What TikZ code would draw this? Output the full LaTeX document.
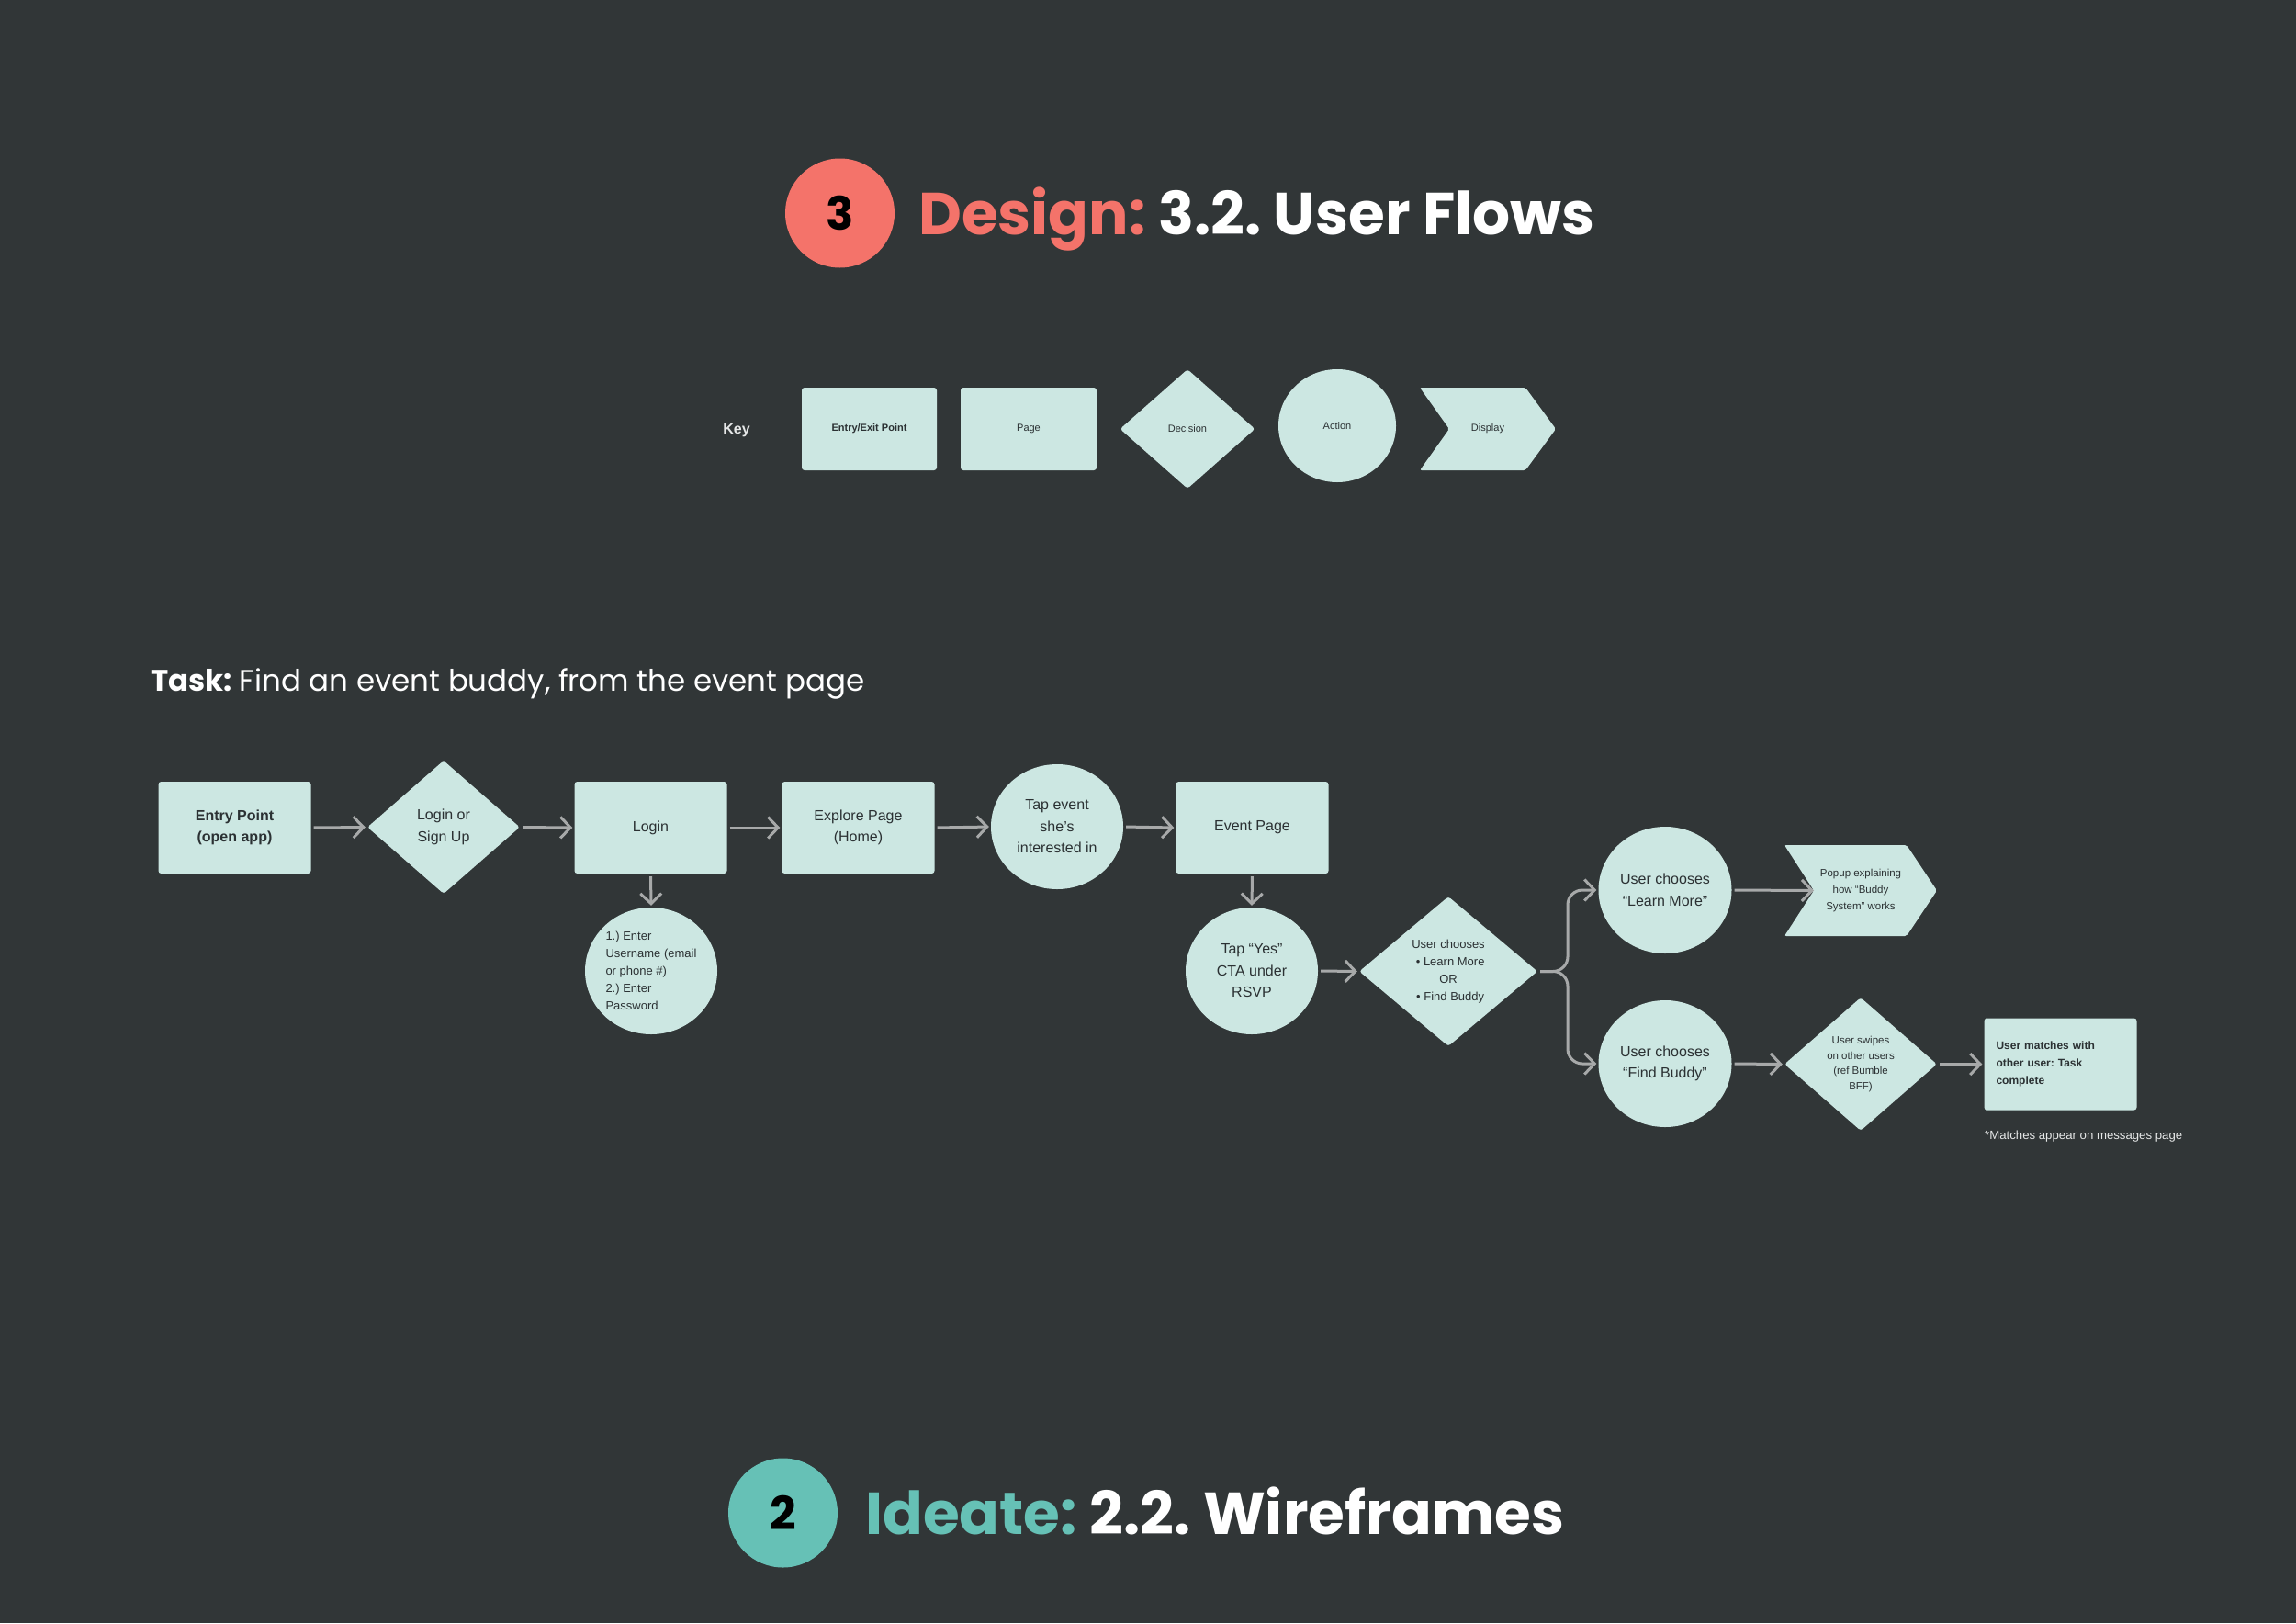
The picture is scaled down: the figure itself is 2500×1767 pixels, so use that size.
\documentclass[tikz,border=0pt]{standalone}
\usepackage{fontspec}
\setmainfont{Liberation Sans}
\newfontfamily\pop{Poppins}
\usetikzlibrary{shapes.geometric,arrows.meta}
\definecolor{bg}{HTML}{313637}
\definecolor{mint}{HTML}{CCE7E2}
\definecolor{ink}{HTML}{2B3133}
\definecolor{arrowgray}{HTML}{A7A9A9}
\definecolor{salmon}{HTML}{F4736A}
\definecolor{tealc}{HTML}{66C1B6}
\definecolor{keytext}{HTML}{E6E8E8}
\newcommand\myfs[2]{\fontsize{#1pt}{#2pt}\selectfont}
\frenchspacing
\begin{document}
\frenchspacing
\begin{tikzpicture}[x=1pt,y=-1pt,
  pagebox/.style={rectangle,fill=mint,rounded corners=3pt,minimum width=166pt,minimum height=100pt,inner sep=0pt,text=ink,align=center,font=\myfs{16}{23.5}},
  dia/.style={diamond,fill=mint,rounded corners=3pt,inner sep=0pt,text=ink,align=center},
  ell/.style={ellipse,fill=mint,inner sep=0pt,minimum width=144pt,minimum height=138pt,text=ink,align=center,font=\myfs{16}{23.5}},
  txt/.style={inner sep=0pt,text=ink,align=center},
  arr/.style={draw=arrowgray,line width=3pt,shorten <=3pt,shorten >=2pt,
    -{Straight Barb[length=11pt,width=23pt,line width=3pt]}},
  numcirc/.style={circle,minimum size=119pt,inner sep=0pt,text=black,font=\pop\bfseries\myfs{50}{50}},
  title/.style={anchor=base west,inner sep=0pt,text=white,font=\pop\bfseries\myfs{64.5}{64}}
]
\useasboundingbox (0,0) rectangle (2500,1767);
\fill[bg] (0,0) rectangle (2500,1767);

% ---------- top title
\node[numcirc,fill=salmon] (n3) at (914.5,232) {3};
\node[title] (t3) at (1000,255) {\textcolor{salmon}{Design:} 3.2. User Flows};

% ---------- key
\node[inner sep=0pt,text=keytext,font=\bfseries\myfs{16}{16}] (key) at (802,468.5) {Key};
\node[pagebox,minimum width=147pt,minimum height=90pt,font=\bfseries\myfs{11}{13}] (kentry) at (946.5,467) {Entry/Exit Point};
\node[pagebox,minimum width=148pt,minimum height=90pt,font=\myfs{11}{13}] (kpage) at (1120,467) {Page};
\node[dia,minimum width=147pt,minimum height=130pt,font=\myfs{11}{13}] (kdec) at (1293,467) {Decision};
\node[ell,minimum width=128pt,minimum height=123pt,font=\myfs{11}{13}] (kact) at (1456,463.5) {Action};
\fill[mint,rounded corners=2pt] (1546,422) -- (1661,422) -- (1694,467) -- (1661,512) -- (1546,512) -- (1578,467) -- cycle;
\node[txt,font=\myfs{11}{13}] (kdisp) at (1620,467) {Display};

% ---------- task
\node[anchor=base west,inner sep=0pt,text=white,font=\pop\myfs{32.5}{33}] (task) at (164,752) {\textbf{Task:}\hspace{8pt}Find an event buddy, from the event page};

% ---------- flow
\node[pagebox,font=\bfseries\myfs{16}{23.5}] (entry) at (255.5,901) {Entry Point\\(open app)};
\node[dia,minimum width=166pt,minimum height=145pt,font=\myfs{16}{23.5}] (lsu) at (483,900.5) {Login or\\Sign Up};
\node[pagebox] (login) at (708.5,901) {Login};
\node[pagebox] (explore) at (934.5,901) {Explore Page\\(Home)};
\node[ell,minimum height=136pt] (tapev) at (1151,900) {Tap event\\she’s\\interested in};
\node[pagebox] (evpage) at (1363.5,901) {Event Page};

\node[ell,align=left,font=\myfs{13}{18.9}] (cred) at (709,1057) {1.) Enter\\Username (email\\or phone \#)\\2.) Enter\\Password};
\node[ell] (tapyes) at (1363,1057) {Tap “Yes”\\CTA under\\RSVP};
\node[dia,minimum width=194pt,minimum height=163pt,font=\myfs{13}{19}] (uchoose) at (1577,1057.5) {User chooses\\\,\,• Learn More\\OR\\\,\,• Find Buddy};

\node[ell,minimum width=145pt] (learn) at (1813,969) {User chooses\\“Learn More”};
\node[ell,minimum width=145pt] (findb) at (1813,1158) {User chooses\\“Find Buddy”};

\fill[mint,rounded corners=2pt] (1943,920) -- (2076,920) -- (2109,969.5) -- (2076,1019) -- (1943,1019) -- (1975,969.5) -- cycle;
\node[txt,font=\myfs{11.5}{18}] (popup) at (2026,969.5) {Popup explaining\\how “Buddy\\System” works};
\coordinate (popupin) at (1975,969.5);

\node[dia,minimum width=166pt,minimum height=145pt,font=\myfs{11.5}{16.5}] (swipe) at (2026,1158.5) {User swipes\\on other users\\(ref Bumble\\BFF)};
\node[pagebox,text width=140pt,align=left,font=\bfseries\myfs{12}{18.7}] (match) at (2243.5,1158.5) {User matches with\\other user: Task\\complete};
\node[anchor=base west,inner sep=0pt,text=keytext,font=\myfs{13.2}{15}] (foot) at (2161,1240.5) {*Matches appear on messages page};

% ---------- connectors
\draw[arr] (entry.east) -- (lsu.west);
\draw[arr] (lsu.east) -- (login.west);
\draw[arr] (login.east) -- (explore.west);
\draw[arr] (explore.east) -- (tapev.west);
\draw[arr] (tapev.east) -- (evpage.west);
\draw[arr] (login.south) -- (cred.north);
\draw[arr] (evpage.south) -- (tapyes.north);
\draw[arr] (tapyes.east) -- (uchoose.west);
\draw[arr,rounded corners=16pt] (uchoose.east) -- (1707,1057.5) -- (1707,969) -- (learn.west);
\draw[arr,rounded corners=16pt] (uchoose.east) -- (1707,1057.5) -- (1707,1158) -- (findb.west);
\draw[arr,shorten >=0pt] (learn.east) -- (popupin);
\draw[arr] (findb.east) -- (swipe.west);
\draw[arr] (swipe.east) -- (match.west);

% ---------- bottom title
\node[numcirc,fill=tealc] (n2) at (852.5,1647) {2};
\node[title] (t2) at (942,1670) {\textcolor{tealc}{Ideate:} 2.2. Wireframes};
\end{tikzpicture}
\end{document}
